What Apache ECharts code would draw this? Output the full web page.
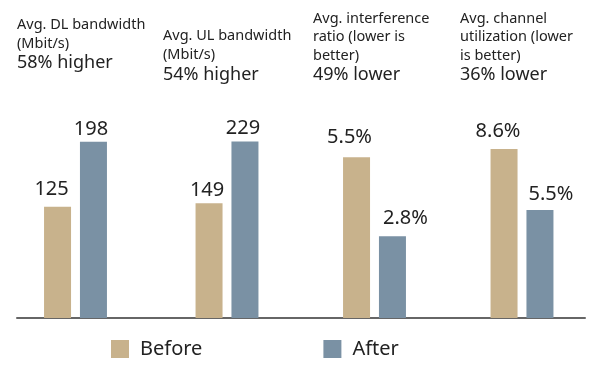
<!DOCTYPE html>
<html>
<head>
<meta charset="utf-8">
<script src="https://cdn.jsdelivr.net/npm/echarts@6/dist/echarts.min.js"></script>
<style>
html,body{margin:0;padding:0;background:#fff;}
#chart{width:600px;height:376px;}
</style>
</head>
<body>
<div id="chart"></div>
<script>
// ---- data ----
const seriesNames = ['Before', 'After'];
const beforeVals = [125, 149, 5.5, 8.6];
const afterVals = [198, 229, 2.8, 5.5];
const valueUnits = ['', '', '%', '%'];
const titleLines = [
  ['Avg. DL bandwidth', '(Mbit/s)'],
  ['Avg. UL bandwidth', '(Mbit/s)'],
  ['Avg. interference', 'ratio (lower is', 'better)'],
  ['Avg. channel', 'utilization (lower', 'is better)']
];
const changeTexts = ['58% higher', '54% higher', '49% lower', '36% lower'];
const axisMax = [245, 283, 7.46, 11.1];

// ---- layout / style ----
const colors = ['#c8b28c', '#7a91a4'];
const font = '"Noto Sans", "Open Sans", sans-serif';
const groupCenters = [75.5, 227, 374.5, 522];
const gridW = 120, gridTop = 100, gridH = 218;
const titlePos = [
  {left: 17, top: 15, lh: 19, blh: 19},
  {left: 163, top: 26, lh: 19.5, blh: 20},
  {left: 313, top: 9.5, lh: 18.5, blh: 20},
  {left: 460, top: 9.5, lh: 18.5, blh: 20}
];
const labelShift = [
  [[-6, -4.5], [-2.5, 0]],
  [[-2, 0], [-2, 0]],
  [[-7, -7], [13, -4.5]],
  [[-6, -4.5], [11, -3]]
];

const grids = [], xAxes = [], yAxes = [], series = [], titles = [];
groupCenters.forEach((c, i) => {
  grids.push({left: c - gridW / 2, top: gridTop, width: gridW, height: gridH});
  xAxes.push({type: 'category', gridIndex: i, data: [''], show: false});
  yAxes.push({type: 'value', gridIndex: i, min: 0, max: axisMax[i], show: false});
  [beforeVals, afterVals].forEach((vals, k) => {
    series.push({
      name: seriesNames[k],
      type: 'bar',
      xAxisIndex: i,
      yAxisIndex: i,
      barWidth: 27,
      barGap: '33%',
      itemStyle: {color: colors[k]},
      label: {
        show: true,
        position: 'top',
        distance: 3,
        fontSize: 20,
        color: '#222',
        fontFamily: font,
        formatter: p => p.value + valueUnits[i]
      },
      data: [{value: vals[i], label: {offset: labelShift[i][k]}}]
    });
  });
  const tp = titlePos[i];
  titles.push({
    left: tp.left,
    top: tp.top,
    padding: 0,
    text: titleLines[i].map(t => '{s|' + t + '}').join('\n') + '\n{b|' + changeTexts[i] + '}',
    textStyle: {
      fontWeight: 'normal',
      rich: {
        s: {fontSize: 14.5, fontWeight: 'normal', lineHeight: tp.lh, color: '#222', fontFamily: font},
        b: {fontSize: 18, fontWeight: 'normal', lineHeight: tp.blh, color: '#222', fontFamily: font}
      }
    }
  });
});

// baseline axis
grids.push({left: 17, top: gridTop, width: 568, height: gridH});
xAxes.push({
  type: 'category', gridIndex: 4, data: [''],
  axisLine: {show: true, lineStyle: {color: '#666', width: 2}},
  axisTick: {show: false}, axisLabel: {show: false}
});
yAxes.push({type: 'value', gridIndex: 4, show: false, min: 0, max: 1});

const chart = echarts.init(document.getElementById('chart'));
chart.setOption({
  animation: false,
  backgroundColor: '#fff',
  title: titles,
  grid: grids,
  xAxis: xAxes,
  yAxis: yAxes,
  legend: {
    data: seriesNames,
    left: 111,
    top: 339,
    padding: 0,
    icon: 'rect',
    itemWidth: 18,
    itemHeight: 18,
    itemGap: 121,
    textStyle: {fontSize: 20, color: '#222', fontFamily: font, padding: [0, 0, 0, 6]}
  },
  series: series
});
</script>
</body>
</html>
